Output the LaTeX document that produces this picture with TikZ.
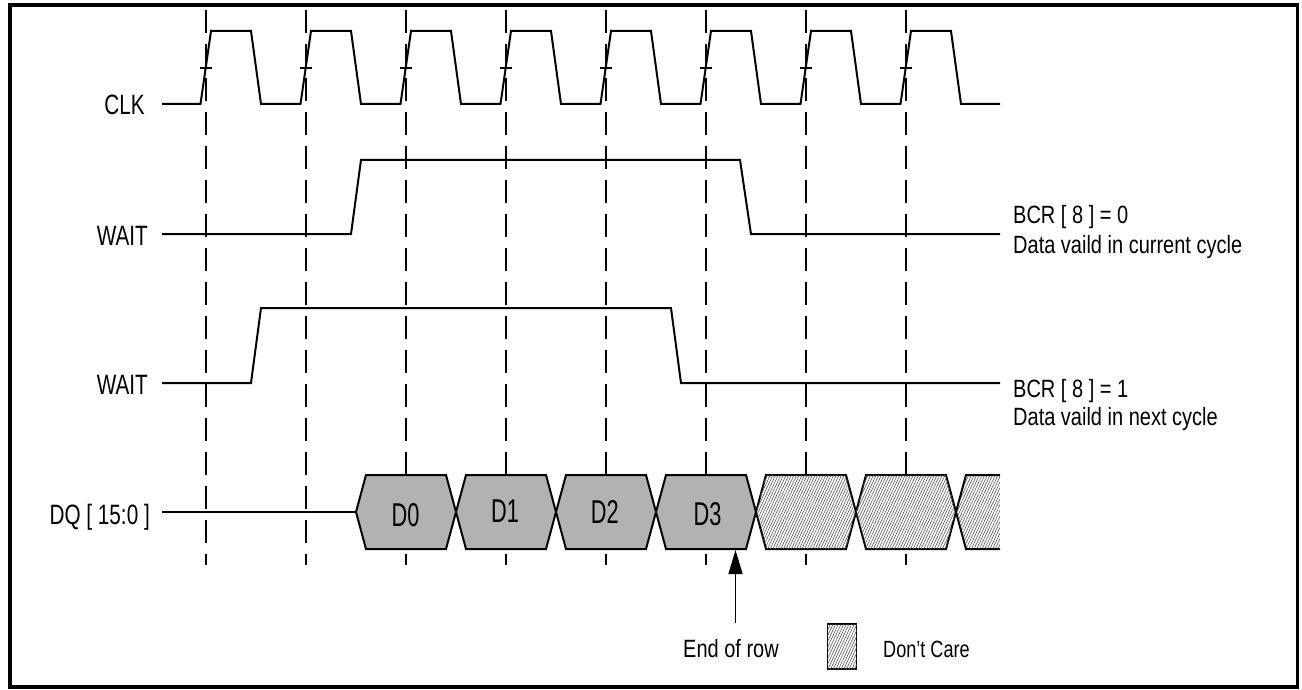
\documentclass[tikz,border=0pt]{standalone}
\usepackage{fontspec}
\setmainfont{Liberation Sans}
\newfontfamily\labfont[FakeStretch=0.8]{Liberation Sans}
\newfontfamily\leftfont[FakeStretch=0.74]{Liberation Sans}
\newfontfamily\dcfont[FakeStretch=0.77]{Liberation Sans}
\newfontfamily\dfont[FakeStretch=0.66]{Liberation Sans}
\usetikzlibrary{arrows.meta,patterns.meta}
\begin{document}
\begin{tikzpicture}[x=1pt,y=-1pt,
  sig/.style={line width=2pt, line join=miter},
  gridline/.style={line width=2pt, dash pattern=on 23pt off 11pt},
  lab/.style={font=\labfont\fontsize{25}{25}\selectfont, inner sep=0pt},
  leftlab/.style={font=\leftfont\fontsize{28}{28}\selectfont, inner sep=0pt},
  dclab/.style={font=\dcfont\fontsize{23.5}{23.5}\selectfont, inner sep=0pt},
  dlab/.style={font=\dfont\fontsize{33}{33}\selectfont, inner sep=0pt},
  busfill/.style={sig, fill=black!30},
  hatch/.style={fill=white, postaction={pattern={Lines[angle=65,distance=2.4pt,line width=0.6pt]}, pattern color=black!65}}
]
\useasboundingbox (0,0) rectangle (1302,690);
% frame
\draw[line width=3.5pt] (10,5) rectangle (1297.5,687);
% dashed clock references
\foreach \i in {0,...,7}
  \draw[gridline] ({205.5+100*\i},10) -- ({205.5+100*\i},565);
% CLK
\draw[sig] (162,104) \foreach \i in {0,...,7} { -- ({200.5+100*\i},104) -- ({211+100*\i},31) -- ({251+100*\i},31) -- ({261+100*\i},104) } -- (1000,104);
\foreach \i in {0,...,7}
  \draw[sig] ({200+100*\i},68) -- ({212+100*\i},68);
% WAIT (BCR8=0)
\draw[sig] (162,234) -- (351,234) -- (361,160) -- (740,160) -- (751,234) -- (1000,234);
% WAIT (BCR8=1)
\draw[sig] (162,383) -- (251,383) -- (261,308) -- (671,308) -- (681,383) -- (1000,383);
% DQ
\draw[sig] (162,512) -- (356,512);
\foreach \i in {0,...,3}
  \filldraw[busfill] ({356+100*\i},512) -- ({366+100*\i},475) -- ({446+100*\i},475) -- ({456+100*\i},512) -- ({446+100*\i},549) -- ({366+100*\i},549) -- cycle;
\foreach \i in {4,5}
  \draw[sig, hatch] ({356+100*\i},512) -- ({366+100*\i},475) -- ({446+100*\i},475) -- ({456+100*\i},512) -- ({446+100*\i},549) -- ({366+100*\i},549) -- cycle;
\path[hatch] (956,512) -- (966,475) -- (1000,475) -- (1000,549) -- (966,549) -- cycle;
\draw[sig] (1000,475) -- (966,475) -- (956,512) -- (966,549) -- (1000,549);
% data labels
\node[dlab, anchor=base] (d0) at (405.5,526.5) {D0};
\node[dlab, anchor=base] (d1) at (505,522) {D1};
\node[dlab, anchor=base] (d2) at (604.7,523) {D2};
\node[dlab, anchor=base] (d3) at (707.5,525) {D3};
% signal names
\node[leftlab, anchor=base east] (clk) at (145,115) {CLK};
\node[leftlab, anchor=base east] (wait1) at (148,245) {WAIT};
\node[leftlab, anchor=base east] (wait2) at (148,394) {WAIT};
\node[leftlab, anchor=base east] (dq) at (150,524) {DQ [ 15:0 ]};
% right notes
\node[lab, anchor=base west] (bcr0) at (1013,223) {BCR [ 8 ] = 0};
\node[lab, anchor=base west] (cur) at (1013,253) {Data vaild in current cycle};
\node[lab, anchor=base west] (bcr1) at (1013,397) {BCR [ 8 ] = 1};
\node[lab, anchor=base west] (nxt) at (1013,425) {Data vaild in next cycle};
% end of row
\node[lab, anchor=base] (eor) at (731,657) {End of row};
\coordinate (tip) at (735.5,550);
\coordinate (tail) at (735.5,623);
\draw[line width=1.5pt, -{Triangle[width=14pt,length=24pt]}] (tail) -- (tip);
% legend
\node[draw, line width=1.5pt, hatch, minimum width=29pt, minimum height=45pt, inner sep=0pt] (dcbox) at (842,646.5) {};
\node[dclab, anchor=base west] (dctext) at (883,657) {Don’t Care};
\end{tikzpicture}
\end{document}
